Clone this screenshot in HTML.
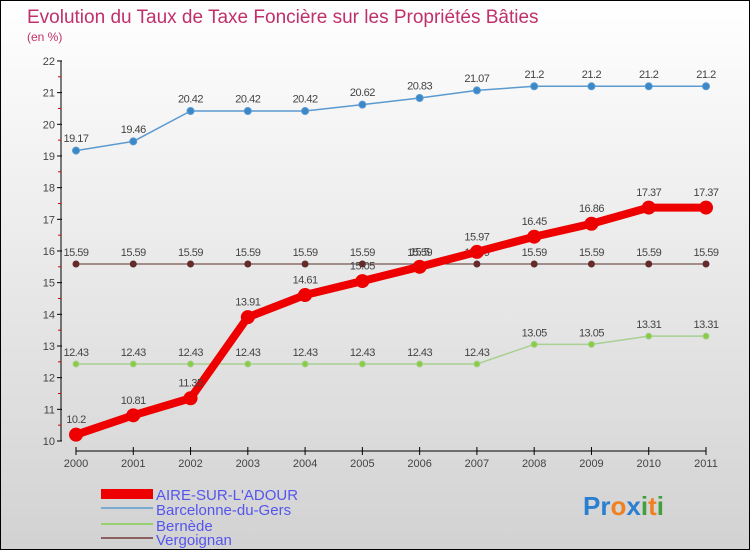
<!DOCTYPE html>
<html><head><meta charset="utf-8"><style>
body{margin:0}
#c{width:748px;height:548px;border:1px solid #000;background:linear-gradient(#ffffff,#d2d2d2);position:relative;overflow:hidden;font-family:"Liberation Sans",sans-serif}
</style></head><body>
<div id="c">
<svg id="s" width="748" height="548" style="position:absolute;left:0;top:0">
<text x="26" y="22" font-size="19" fill="#c0306a">Evolution du Taux de Taxe Foncière sur les Propriétés Bâties</text>
<text x="26" y="40" font-size="12" fill="#c0306a">(en %)</text>
<g id="axes"></g><g id="series"></g>
<g>
<rect x="100" y="488" width="52" height="10" fill="#e00"/>
<text x="155" y="499" font-size="15" fill="#5555ee">AIRE-SUR-L'ADOUR</text>
<line x1="100" y1="507" x2="152" y2="507" stroke="#7aaad0" stroke-width="2"/>
<text x="155" y="514" font-size="15" fill="#5555ee">Barcelonne-du-Gers</text>
<line x1="100" y1="523" x2="152" y2="523" stroke="#99d070" stroke-width="2"/>
<text x="155" y="530" font-size="15" fill="#5555ee">Bernède</text>
<line x1="100" y1="537" x2="152" y2="537" stroke="#8a6060" stroke-width="2"/>
<text x="155" y="544" font-size="15" fill="#5555ee">Vergoignan</text>
</g>
<text x="582" y="514" font-size="26" font-weight="bold"><tspan fill="#2a7fd0">Pr</tspan><tspan fill="#f08020">o</tspan><tspan fill="#2a7fd0">x</tspan><tspan fill="#40a040">i</tspan><tspan fill="#f08020">t</tspan><tspan fill="#40a040">i</tspan></text>
</svg>
</div>
<script>
const years=[2000,2001,2002,2003,2004,2005,2006,2007,2008,2009,2010,2011];
const aire=[10.2,10.81,11.35,13.91,14.61,15.05,15.5,15.97,16.45,16.86,17.37,17.37];
const barcelonne=[19.17,19.46,20.42,20.42,20.42,20.62,20.83,21.07,21.2,21.2,21.2,21.2];
const bernede=[12.43,12.43,12.43,12.43,12.43,12.43,12.43,12.43,13.05,13.05,13.31,13.31];
const vergoignan=[15.59,15.59,15.59,15.59,15.59,15.59,15.59,15.59,15.59,15.59,15.59,15.59];
const yTicks=[10,11,12,13,14,15,16,17,18,19,20,21,22];
const NS="http://www.w3.org/2000/svg";
const X=i=>75+i*(630/11);
const Y=v=>440-(v-10)*31.67;
function mk(p,t,a){const e=document.createElementNS(NS,t);for(const k in a)e.setAttribute(k,a[k]);p.appendChild(e);return e;}
const ax=document.getElementById('axes');
let l=mk(ax,'line',{x1:60,y1:Y(22),x2:60,y2:Y(10),stroke:'#000'});


yTicks.forEach(v=>{
 mk(ax,'line',{x1:56,y1:Y(v),x2:61,y2:Y(v),stroke:'#000'});
 if(v<22) mk(ax,'line',{x1:57,y1:Y(v+0.5),x2:60,y2:Y(v+0.5),stroke:'#d00'});
 const t=mk(ax,'text',{x:54,y:Y(v)+4,'font-size':11,fill:'#444','text-anchor':'end'});t.textContent=v;
 
 
});
l=mk(ax,'line',{x1:X(0),y1:450,x2:X(11),y2:450,stroke:'#000'});


years.forEach((y,i)=>{
 mk(ax,'line',{x1:X(i),y1:446,x2:X(i),y2:454,stroke:'#000'});
 const t=mk(ax,'text',{x:X(i),y:466,'font-size':11,fill:'#444','text-anchor':'middle'});t.textContent=y;
 
 
});
const sg=document.getElementById('series');
function series(name,data,color,w,r,fill){
 const g=mk(sg,'g',{});
 
 
 mk(g,'polyline',{points:data.map((v,i)=>X(i)+','+Y(v)).join(' '),fill:'none',stroke:color,'stroke-width':w,'stroke-linejoin':'round'});
 data.forEach((v,i)=>{
  const c=mk(g,'circle',{cx:X(i),cy:Y(v),r:r,fill:fill,stroke:color,'stroke-width':1});
  
  
  const t=mk(g,'text',{x:X(i),y:Y(v)-r-5,'font-size':11,fill:'#444','text-anchor':'middle','letter-spacing':'-0.5'});t.textContent=v;
  
  
 });
}
series('vergoignan',vergoignan,'#5a3030',1,3,'#6a2828');
series('bernede',bernede,'#a8d090',1.5,3,'#88cc44');
series('barcelonne',barcelonne,'#5a9ad0',1.5,3.5,'#3a88c8');
series('aire',aire,'#ee0000',8,6.5,'#ee0000');
</script>
</body></html>
